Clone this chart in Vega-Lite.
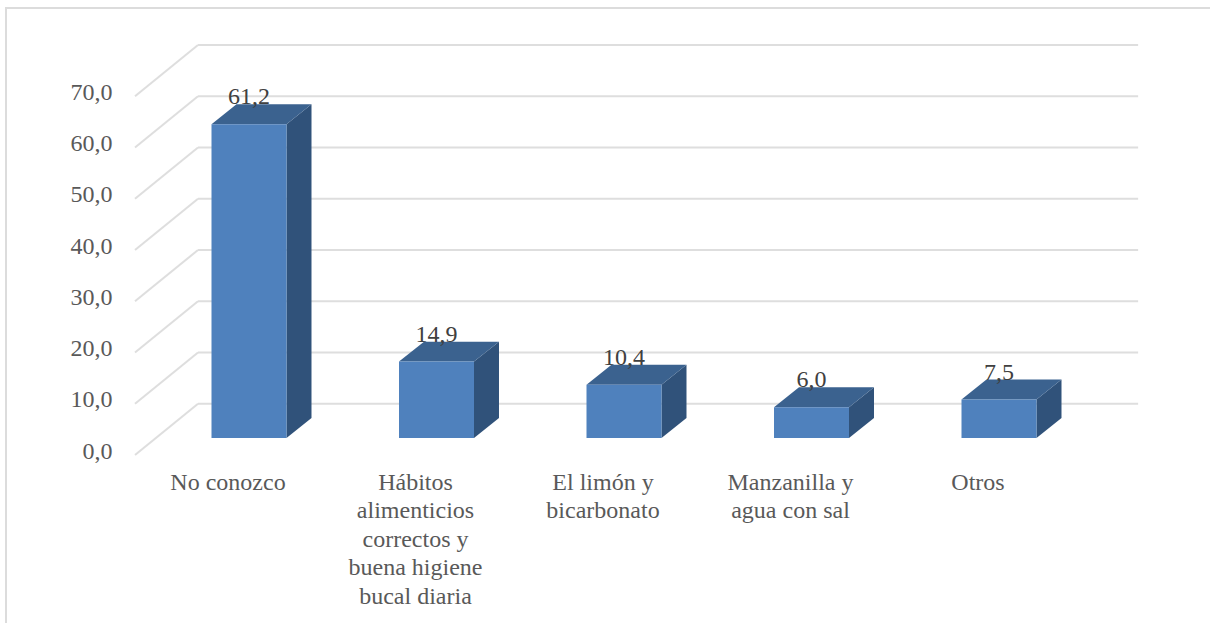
{
  "$schema": "https://vega.github.io/schema/vega-lite/v6.json",
  "width": 1214,
  "height": 626,
  "autosize": {"type": "none"},
  "padding": {"left": 6, "top": 8, "right": -10, "bottom": -11},
  "background": "white",
  "view": {"stroke": "#dcdcdc", "strokeWidth": 2, "fill": "white"},
  "config": {"font": "Liberation Serif"},
  "datasets": {
    "bars": [
      {"categoria": "No conozco", "valor": 61.2},
      {"categoria": "Hábitos alimenticios correctos y buena higiene bucal diaria", "valor": 14.9},
      {"categoria": "El limón y bicarbonato", "valor": 10.4},
      {"categoria": "Manzanilla y agua con sal", "valor": 6.0},
      {"categoria": "Otros", "valor": 7.5}
    ],
    "grid": [{"g": 0}, {"g": 10}, {"g": 20}, {"g": 30}, {"g": 40}, {"g": 50}, {"g": 60}, {"g": 70}]
  },
  "layer": [
    {
      "data": {"name": "grid"},
      "transform": [
        {"calculate": "datum.g + 10", "as": "gBack"},
        {"calculate": "0.336", "as": "wall"},
        {"calculate": "0", "as": "front"}
      ],
      "mark": {"type": "rule", "color": "#dedede", "strokeWidth": 2},
      "encoding": {
        "x": {"field": "front", "type": "quantitative", "axis": null, "scale": {"domain": [0, 5], "range": [129, 1066.5], "nice": false, "zero": false}},
        "x2": {"field": "wall"},
        "y": {"field": "g", "type": "quantitative", "scale": {"domain": [0, 80], "range": [447, 37], "nice": false},
          "axis": {"values": [0, 10, 20, 30, 40, 50, 60, 70], "title": null, "domain": false, "ticks": false, "grid": false, "orient": "left", "offset": -106, "labelPadding": 0, "labelOffset": -4, "labelFontSize": 24, "labelColor": "#595959", "labelFont": "Liberation Serif", "labelExpr": "replace(format(datum.value, '.1f'), '.', ',')"}},
        "y2": {"field": "gBack"}
      }
    },
    {
      "data": {"name": "grid"},
      "transform": [
        {"calculate": "datum.g + 10", "as": "gBack"},
        {"calculate": "0.336", "as": "wall"},
        {"calculate": "5.35", "as": "wallEnd"}
      ],
      "mark": {"type": "rule", "color": "#dedede", "strokeWidth": 2},
      "encoding": {
        "x": {"field": "wall", "type": "quantitative", "axis": null, "scale": {"domain": [0, 5], "range": [129, 1066.5], "nice": false, "zero": false}},
        "x2": {"field": "wallEnd"},
        "y": {"field": "gBack", "type": "quantitative"}
      }
    },
    {
      "data": {"name": "bars"},
      "transform": [
        {"window": [{"op": "row_number", "as": "n"}]},
        {"calculate": "[0, 1]", "as": "k"},
        {"flatten": ["k"]},
        {"calculate": "datum.n - 1 + 0.808 + datum.k * 0.1333", "as": "xs"},
        {"calculate": "3.32 + datum.k * 3.9", "as": "ys0"},
        {"calculate": "datum.ys0 + datum.valor", "as": "ys1"}
      ],
      "mark": {"type": "area", "color": "#30527a", "opacity": 1},
      "encoding": {
        "x": {"field": "xs", "type": "quantitative", "axis": null, "scale": {"domain": [0, 5], "range": [129, 1066.5], "nice": false, "zero": false}},
        "y": {"field": "ys0", "type": "quantitative"},
        "y2": {"field": "ys1"},
        "detail": {"field": "categoria"}
      }
    },
    {
      "data": {"name": "bars"},
      "transform": [
        {"window": [{"op": "row_number", "as": "n"}]},
        {"calculate": "[0, 1]", "as": "k"},
        {"flatten": ["k"]},
        {"calculate": "datum.n - 1 + 0.408 + datum.k * 0.1333", "as": "xa"},
        {"calculate": "datum.xa + 0.4", "as": "xb"},
        {"calculate": "3.32 + datum.k * 3.9 + datum.valor", "as": "yt"}
      ],
      "mark": {"type": "area", "orient": "horizontal", "color": "#3b628f", "opacity": 1},
      "encoding": {
        "y": {"field": "yt", "type": "quantitative"},
        "x": {"field": "xa", "type": "quantitative", "axis": null, "scale": {"domain": [0, 5], "range": [129, 1066.5], "nice": false, "zero": false}},
        "x2": {"field": "xb"},
        "detail": {"field": "categoria"}
      }
    },
    {
      "data": {"name": "bars"},
      "transform": [
        {"calculate": "3.32", "as": "base"},
        {"calculate": "datum.base + datum.valor", "as": "top"}
      ],
      "mark": {"type": "bar", "color": "#4f81bd"},
      "encoding": {
        "x": {"field": "categoria", "type": "nominal", "sort": null, "title": null,
          "scale": {"range": [149.25, 1086.75], "paddingInner": 0.6, "paddingOuter": 0.3},
          "axis": {"title": null, "domain": false, "ticks": false, "grid": false, "orient": "bottom", "offset": -179, "labelAngle": 0, "labelPadding": 15, "labelOffset": -21, "labelFontSize": 24, "labelColor": "#595959", "labelFont": "Liberation Serif", "labelLineHeight": 28.5, "labelLimit": 300, "labelBaseline": "top", "labelAlign": "center",
            "labelExpr": "{'Hábitos alimenticios correctos y buena higiene bucal diaria': ['Hábitos', 'alimenticios', 'correctos y', 'buena higiene', 'bucal diaria'], 'El limón y bicarbonato': ['El limón y', 'bicarbonato'], 'Manzanilla y agua con sal': ['Manzanilla y', 'agua con sal']}[datum.value] || datum.value"}},
        "y": {"field": "top", "type": "quantitative"},
        "y2": {"field": "base"}
      }
    },
    {
      "data": {"name": "bars"},
      "transform": [
        {"calculate": "3.32 + datum.valor", "as": "top"},
        {"calculate": "replace(format(datum.valor, '.1f'), '.', ',')", "as": "etiqueta"}
      ],
      "mark": {"type": "text", "fontSize": 24, "color": "#404040", "dy": -27, "baseline": "middle", "font": "Liberation Serif"},
      "encoding": {
        "x": {"field": "categoria", "type": "nominal", "sort": null, "axis": null,
          "scale": {"range": [149.25, 1086.75], "paddingInner": 0.6, "paddingOuter": 0.3}},
        "y": {"field": "top", "type": "quantitative"},
        "text": {"field": "etiqueta", "type": "nominal"}
      }
    }
  ],
  "resolve": {"scale": {"x": "independent"}, "axis": {"x": "independent"}}
}
